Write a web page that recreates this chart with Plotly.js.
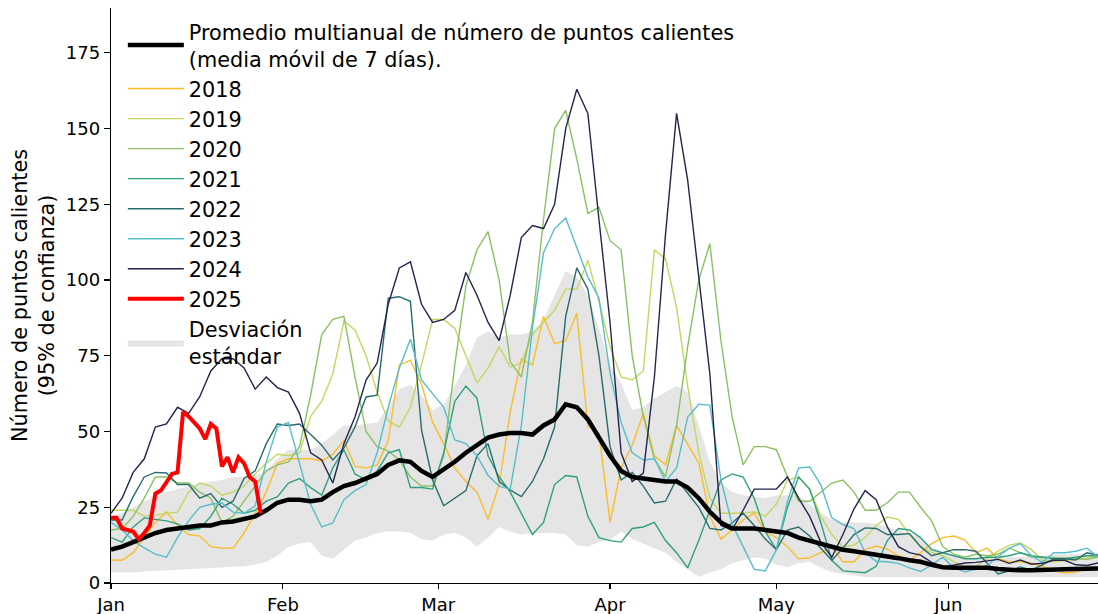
<!DOCTYPE html>
<html>
<head>
<meta charset="utf-8">
<script src="https://cdn.plot.ly/plotly-3.0.1.min.js"></script>
<style>html,body{margin:0;padding:0;background:#fff;}#chart{width:1098px;height:614px;}</style>
</head>
<body>
<div id="chart"></div>
<script>
// Day offsets from 1 January (2-day grid) used by the yearly series
const gridDays = [];
for (let d = 0; d <= 178; d += 2) gridDays.push(d);
// Daily offsets for 2025
const days2025 = [0,1,2,3,4,5,6,7,8,9,10,11,12,13,14,15,16,17,18,19,20,21,22,23,24,25,26,27];

const meanVals = [11,12,13.5,15,16.5,17.5,18,18.5,19,19,20,20.3,21,22,24,26.5,27.5,27.5,27,27.5,30,32,33,34.5,36,39,40.5,40,37,35,37.5,40,43,45.5,48,49,49.5,49.5,49,52,54,59,58,54,48,42,37,35,34.5,34,33.5,33.5,31.5,28,23.5,20,18,18,18,17.5,17,16.5,15,14,13,12,11,10.5,10,9.5,8.8,8.2,7.5,7,6,5.2,5,5,5,5,4.6,4.3,4.2,4.2,4.2,4.3,4.5,4.6,4.7,4.8];
const bandHigh = [22,23,25,27,28.5,30,31,32,33,33.5,34,35,35,35.5,37,41,44,44,44,46,49,52,52,52.5,53,58,64,65.5,62,57,59,65,72,81,83,81,82,82,83,87,95,103,101,95,84,72,66,57,58,61,63,65,63,52,40,33,30,29,28.5,28,29,29,29,26,23,21,20,20,20,19.5,18.5,17.5,16.5,15,12,10,9,8.6,8.5,8.5,8.5,8.5,8.5,9,9,9.5,9.5,9.5,10,10];
const bandLow = [3.5,3.5,3.5,3.8,4,4.2,4.3,4.5,4.8,5,5,5.3,5.5,6,7,9,12,13,13.5,9,8,11,14,15,16.5,17,17,16.5,14.5,14,16,16.5,15,12,15,18.5,17,16,16.5,16.5,16.5,16,12.5,12,13.5,14,17,14.5,13,11.5,10,7,4.5,2,3.5,4.5,6.5,7.5,8.5,8,6,5.3,6.5,7,5,3.6,3,2.5,2,2,2,2,2,2,1.8,1.8,1.8,1.8,1.8,1.8,1.8,1.8,1.8,1.8,1.8,1.8,1.8,2,2,2];

const y2018 = [7.6,7.5,10,15,20,23.5,19,16,15.5,12,11.5,11.5,16.5,23,30,39.5,41,41,41,40.3,42.5,47,38.5,38,39,47,72,73.5,65.5,53,46,38,33.5,30,21,32.5,56.5,74,72,88,79,80,89,51.8,49.5,20,38,45.5,56,42,39,52,46,39.6,22,14.5,17.5,20.8,23,17,15,12,8,8.3,10,12,7,7,11,12.2,11.2,9,7.6,10,13,15,15.5,14.2,10,11.5,8,7,7,6.6,5.5,4,3.4,3.5,5,5.3];
const y2019 = [24,24,24,22,22.5,23,23.4,30,33,32,29,30,32,36,39.5,42.5,42,43,55,60,69,86.5,83.5,75,63,53.5,51.5,58,72,87,87,84,75,66,71,78,71.3,72.6,82,86,90,97,97,106.5,93,78,68,67,70,110,107,91,65,43,28,23,23,23,23.5,22,26,34,35,31,22,16,12,12.5,15,19,21.8,21,16,12,10,9,7,5.5,5.5,8,10.5,12.5,13.2,11,7.5,7,7.3,7.8,8.3,9.2];
const y2020 = [17.5,18,22,28,35,35,33,33,30,28,20,22,27,32,37,39,40,45,62,82,87,88,68,50,45,43.5,40.6,35,32,32,42,72,98,110,116,100,73,68,86,120,150,156,140,122,124,113,110,75,55,41,35,52,78,100,112,80,55,39,45,45,44,35,27,27,30,33,34,30,24,24,26.5,30,30,25,20.5,12,9.5,8.5,9.5,9,9.5,11.5,10,8.6,8.5,8.5,8.3,8,7.8,8.6];
const y2021 = [15,13.5,18.5,21.5,21,20.5,19.5,17.5,18,22,28,26,23,24,27,28.4,33,34.5,31.5,29,38,44,36,34,37,43,44,31.5,31.5,31,43,60,65,61,42,35,30,23,16,20,32.5,35.5,35,22,15,14,13.5,18,18.5,20,14,10,5,14,24,34,36,35,28,17,11,25,35,31,20,7.5,4,3.6,3.4,5.5,14,18,17.5,15,11,10,9,8,8,8.5,8.5,9,10,9,8.5,8,8,8.5,9,9];
const y2022 = [20.8,20.8,28.5,35,36.5,36.3,32.5,32.5,28,29.5,25,27,34.5,37,46,52.5,52,52.5,49,45.5,40.6,44.5,51.5,61.4,62,94,94.5,93,50.5,34,25.5,28,30.5,42,46,33.5,30.7,28.5,33.5,41,51.5,88,104,97,75,45,34,36.5,32,26.4,27,34.3,29.7,25,18,17.5,19.8,23,19,14.5,11,17.5,18.5,15.5,11.5,7.5,11.5,16,18.2,18,16,16,16.3,12,9,10,11,11,10.5,6.5,3,4,5.3,4.3,6,8,8,7.6,10,9.2];
const y2023 = [20,17.5,14,11.6,9.5,8.5,15,20.5,25,26,26.4,23.4,23,25.5,40,51.5,53,39.6,26,18.5,19.8,27.5,30.5,32.5,43,58,71,80.5,67,62.5,58,47.2,46,42,35.5,32,31,52,84,109,117,120.5,111,101,94,69.3,53,43,40.6,41,33.5,38,54.8,59,58.7,34,19.5,12,4.5,4,11,27,38,38.3,32.5,21.5,19.3,18,10,7.2,7,6.5,5,3.8,6,8.5,5,3.7,4.5,5.8,8.5,11.5,13,9,6.8,10,10,10.5,11.5,8.6];
const y2024 = [23,28,36.5,41,51.5,52.5,58,56,61.5,70,74,74,71,64,68,64.5,63,56,43,40.6,33,46,54.8,67,72.6,92,104,106,92,86,87,90,102.5,95,86,80,95,114,118,117,125,150,163,155,120,86,43,33.5,36.3,68,115,155,133,100,69,19,17.5,24,31,31,31,35,28,22,13.5,8.5,16,24.5,30.5,27.5,18.5,12,10,9.2,6.8,5.2,5.8,6.6,6.8,7.2,7.8,6.5,7.6,6.2,6.5,7.5,7.5,6,5.8,6.6];
const y2025 = [21.5,21.5,18,17.5,17,14.5,16.5,19,29.5,30.5,33,36,36.5,56.5,55,53,51,47.5,52.5,51,38.5,41.5,36.5,41.5,39.5,35,33.5,23];

const yearNames = ['2018','2019','2020','2021','2022','2023','2024'];
const yearSeries = [y2018, y2019, y2020, y2021, y2022, y2023, y2024];
const yearColors = ['#fbbc2c','#c5d65e','#8bc163','#2fa07f','#276b6d','#57bdcb','#24244f'];

function toDate(d) {
  const t = new Date(Date.UTC(2025, 0, 1 + d));
  return t.toISOString().slice(0, 10);
}
const gridDates = gridDays.map(toDate);
const dates2025 = days2025.map(toDate);

const FONT = 'DejaVu Sans, sans-serif';
const traces = [];
traces.push({x: gridDates, y: bandLow, type: 'scatter', mode: 'lines', line: {width: 0, color: '#e5e5e5'}, showlegend: false, hoverinfo: 'skip'});
traces.push({x: gridDates, y: bandHigh, type: 'scatter', mode: 'lines', fill: 'tonexty', fillcolor: '#e5e5e5', line: {width: 0, color: '#e5e5e5'}, name: 'Desviación<br>estándar', legendrank: 20, legendgroup: 'g20'});
yearSeries.forEach((ys, i) => {
  traces.push({x: gridDates, y: ys, type: 'scatter', mode: 'lines', line: {color: yearColors[i], width: 1.4}, name: yearNames[i], legendrank: 2 + i, legendgroup: 'g' + (2 + i)});
});
traces.push({x: gridDates, y: meanVals, type: 'scatter', mode: 'lines', line: {color: '#000000', width: 4.5}, name: 'Promedio multianual de número de puntos calientes<br>(media móvil de 7 días).', legendrank: 1, legendgroup: 'g1'});
traces.push({x: dates2025, y: y2025, type: 'scatter', mode: 'lines', line: {color: '#ff0000', width: 4}, name: '2025', legendrank: 10, legendgroup: 'g10'});

const layout = {
  width: 1098, height: 614,
  margin: {l: 111, r: 0, t: 8, b: 31},
  paper_bgcolor: '#ffffff', plot_bgcolor: '#ffffff',
  font: {family: FONT, size: 18, color: '#000000'},
  showlegend: true,
  legend: {x: 0.012, y: 0.994, xanchor: 'left', yanchor: 'top', bgcolor: 'rgba(0,0,0,0)', font: {family: FONT, size: 20.8, color: '#000'}, tracegroupgap: 0, itemwidth: 56},
  xaxis: {
    type: 'date', range: ['2025-01-01', '2025-06-28'],
    tickformat: '%b', dtick: 'M1', tick0: '2025-01-01',
    showgrid: false, zeroline: false, showline: true, linecolor: '#000', linewidth: 1.2,
    ticks: 'outside', ticklen: 5, tickwidth: 1.2, tickcolor: '#000',
    tickfont: {family: FONT, size: 18, color: '#000'}
  },
  yaxis: {
    range: [0, 189.8], tickvals: [0,25,50,75,100,125,150,175],
    showgrid: false, zeroline: false, showline: true, linecolor: '#000', linewidth: 1.2,
    ticks: 'outside', ticklen: 6, tickwidth: 1.2, tickcolor: '#000',
    tickfont: {family: FONT, size: 18, color: '#000'},
    title: {text: 'Número de puntos calientes<br>(95% de confianza)', font: {family: FONT, size: 20.8, color: '#000'}, standoff: 5}
  }
};

Plotly.newPlot('chart', traces, layout, {displayModeBar: false, staticPlot: true});
</script>
</body>
</html>
